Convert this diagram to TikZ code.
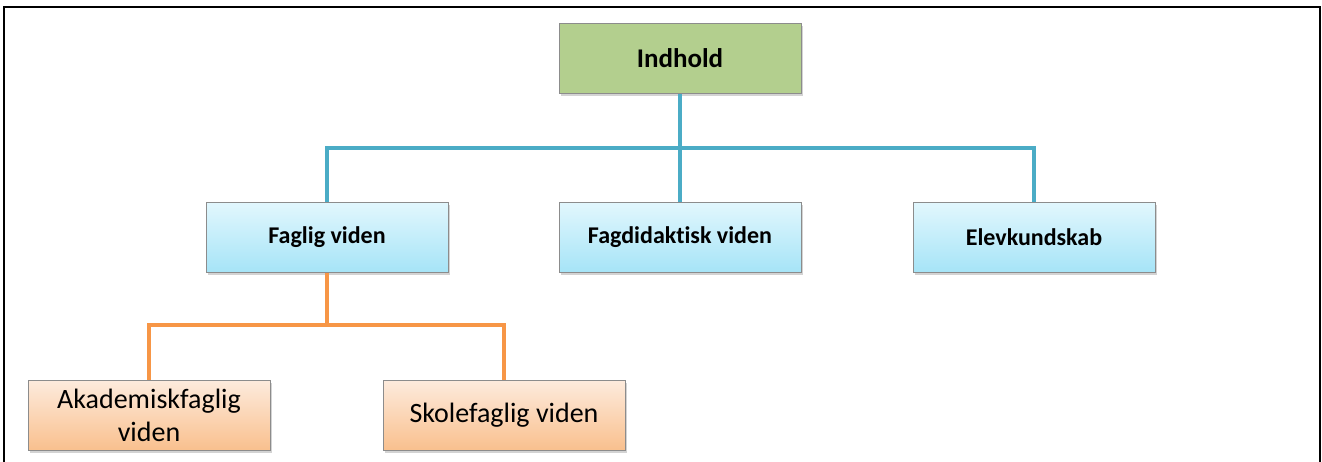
\documentclass[tikz,border=0pt]{standalone}
\usepackage{fontspec}
\setmainfont{Carlito}[Ligatures=NoCommon]
\usetikzlibrary{shadows}
\definecolor{blueline}{HTML}{4BACC6}
\definecolor{orangeline}{HTML}{F79646}
\definecolor{greenfill}{HTML}{B3CF8E}
\definecolor{bluetop}{HTML}{E2F7FD}
\definecolor{bluebot}{HTML}{A6E4F7}
\definecolor{orangetop}{HTML}{FDEBDD}
\definecolor{orangebot}{HTML}{F9C08E}
\definecolor{boxborder}{HTML}{8C8C8C}
\tikzset{
  base/.style={draw=boxborder, line width=1pt, minimum width=242pt, minimum height=70pt,
    inner sep=2pt, align=center, drop shadow={shadow xshift=2pt, shadow yshift=-3pt, opacity=0.35, fill=gray}},
  greenbox/.style={base, fill=greenfill, font=\bfseries\fontsize{27}{32}\selectfont},
  bluebox/.style={base, top color=bluetop, bottom color=bluebot, font=\bfseries\fontsize{24}{29}\selectfont},
  orangebox/.style={base, top color=orangetop, bottom color=orangebot, font=\fontsize{28}{33}\selectfont},
  bluecon/.style={draw=blueline, line width=4.5pt},
  orangecon/.style={draw=orangeline, line width=4.5pt},
  frame/.style={draw=black, line width=2.2pt}
}
\begin{document}
\begin{tikzpicture}[x=1pt,y=-1pt]
\useasboundingbox (0,0) rectangle (1322,461);
\draw[frame] (4,470) -- (4,7) -- (1320,7) -- (1320,470);
\node[greenbox] (ind) at (680,58) {Indhold};
\node[bluebox] (fag) at (327,237) {Faglig viden};
\node[bluebox] (did) at (680,237) {Fagdidaktisk viden};
\node[bluebox] (elev) at (1034,237) {Elevkundskab};
\node[orangebox] (aka) at (149,415) {Akademiskfaglig\\viden};
\node[orangebox] (sko) at (504,415) {Skolefaglig viden};
\coordinate (bj) at (680,148);
\coordinate (oj) at (327,325);
\draw[bluecon] (ind.south) -- (bj);
\draw[bluecon] (fag.north) |- (bj) -| (elev.north);
\draw[bluecon] (bj) -- (did.north);
\draw[orangecon] (fag.south) -- (oj);
\draw[orangecon] (aka.north) |- (oj) -| (sko.north);
\end{tikzpicture}
\end{document}
